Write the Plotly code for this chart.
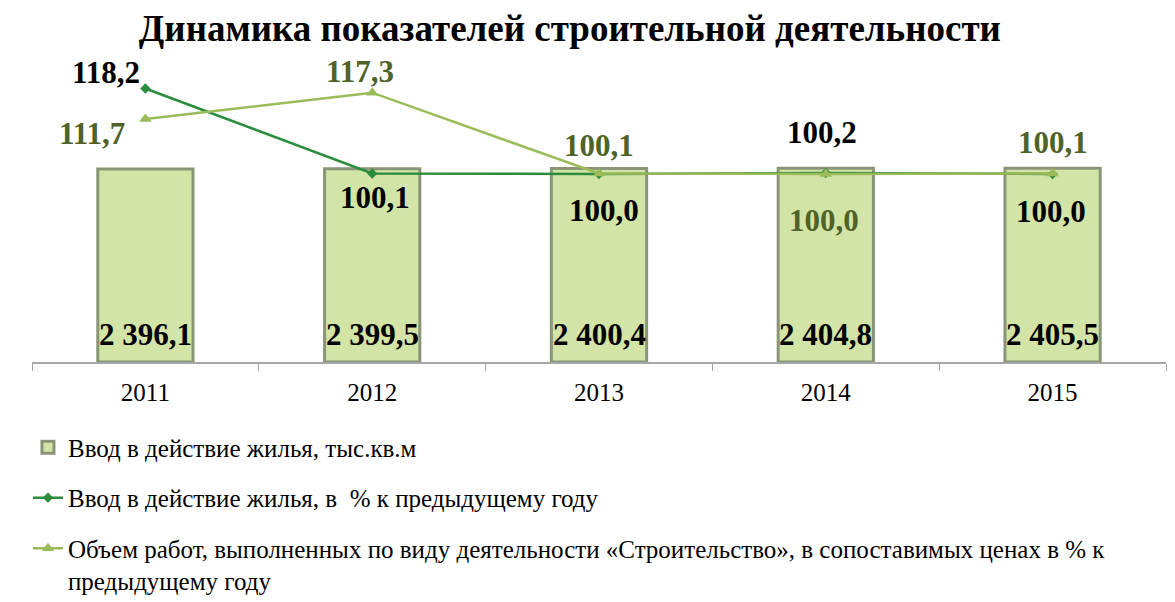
import plotly.graph_objects as go

years = ["2011", "2012", "2013", "2014", "2015"]
housing = [2396.1, 2399.5, 2400.4, 2404.8, 2405.5]
housing_labels = ["2 396,1", "2 399,5", "2 400,4", "2 404,8", "2 405,5"]
housing_pct = [118.2, 100.1, 100.0, 100.2, 100.0]
housing_pct_labels = ["118,2", "100,1", "100,0", "100,2", "100,0"]
construction_pct = [111.7, 117.3, 100.1, 100.0, 100.1]
construction_pct_labels = ["111,7", "117,3", "100,1", "100,0", "100,1"]

name_bar = "Ввод в действие жилья, тыс.кв.м"
name_dark = "Ввод в действие жилья, в  % к предыдущему году"
name_light = ("Объем работ, выполненных по виду деятельности «Строительство», "
              "в сопоставимых ценах в % к<br>предыдущему году")

FONT = "Liberation Serif, DejaVu Serif, Times New Roman, serif"
DARK = "#2a8c3c"
LIGHT = "#9bbb59"
OLIVE = "#4f6228"

fig = go.Figure()
fig.add_trace(go.Bar(
    x=years, y=housing, name=name_bar, legendgroup="a",
    marker=dict(color="#d2e4a6", line=dict(color="#8a9577", width=3)),
    width=0.42,
))
fig.add_trace(go.Scatter(
    x=years, y=housing_pct, name=name_dark, legendgroup="b", yaxis="y2",
    mode="lines+markers", line=dict(color=DARK, width=2.5),
    marker=dict(symbol="diamond", size=8, color=DARK),
))
fig.add_trace(go.Scatter(
    x=years, y=construction_pct, name=name_light, legendgroup="c", yaxis="y2",
    mode="lines+markers", line=dict(color=LIGHT, width=2.5),
    marker=dict(symbol="triangle-up", size=11, color=LIGHT),
))

# label offsets (style only)
dark_shift = [(-39, 16), (3, -24), (5, -36), (-4, 41), (-2, -37)]
light_shift = [(-53, -14), (-12, 21), (0, 28), (-2, -46), (0, 31)]
ann = []
for i, yr in enumerate(years):
    ann.append(dict(x=i, y=0, xref="x", yref="y", yanchor="bottom",
                    text="<b>" + housing_labels[i] + "</b>", showarrow=False,
                    yshift=8,
                    font=dict(family=FONT, size=31, color="black")))
    dx, dy = dark_shift[i]
    ann.append(dict(x=i, y=housing_pct[i], yref="y2", xref="x",
                    text="<b>" + housing_pct_labels[i] + "</b>", showarrow=False,
                    xshift=dx, yshift=dy,
                    font=dict(family=FONT, size=31, color="black")))
    dx, dy = light_shift[i]
    ann.append(dict(x=i, y=construction_pct[i], yref="y2", xref="x",
                    text="<b>" + construction_pct_labels[i] + "</b>", showarrow=False,
                    xshift=dx, yshift=dy,
                    font=dict(family=FONT, size=31, color=OLIVE)))

fig.update_layout(
    width=1175, height=602,
    margin=dict(l=32, r=9, t=80, b=240, autoexpand=False),
    paper_bgcolor="white", plot_bgcolor="white",
    title=dict(text="<b>Динамика показателей строительной деятельности</b>",
               xref="container", x=0.485, xanchor="center", y=0.954, yanchor="middle",
               font=dict(family=FONT, size=37, color="black")),
    font=dict(family=FONT, color="black"),
    xaxis=dict(type="category", showline=True, linecolor="#a6a6a6", linewidth=1.5,
               ticks="outside", tickson="boundaries", ticklen=7,
               tickcolor="#a6a6a6", tickfont=dict(family=FONT, size=25, color="black"),
               ticklabelstandoff=7,
               showgrid=False, range=[-0.5, 4.5]),
    yaxis=dict(range=[0, 3500], showgrid=False, zeroline=False,
               showticklabels=False, showline=False, ticks=""),
    yaxis2=dict(range=[60, 120], overlaying="y", side="right",
                showgrid=False, zeroline=False,
                showticklabels=False, showline=False, ticks=""),
    showlegend=True,
    legend=dict(orientation="v", xref="container", yref="container",
                x=0.0238, xanchor="left", y=0.295, yanchor="top",
                traceorder="grouped", tracegroupgap=15, valign="top",
                font=dict(family=FONT, size=25, color="black"),
                itemwidth=30),
    annotations=ann,
)

fig.write_html("out.html")
